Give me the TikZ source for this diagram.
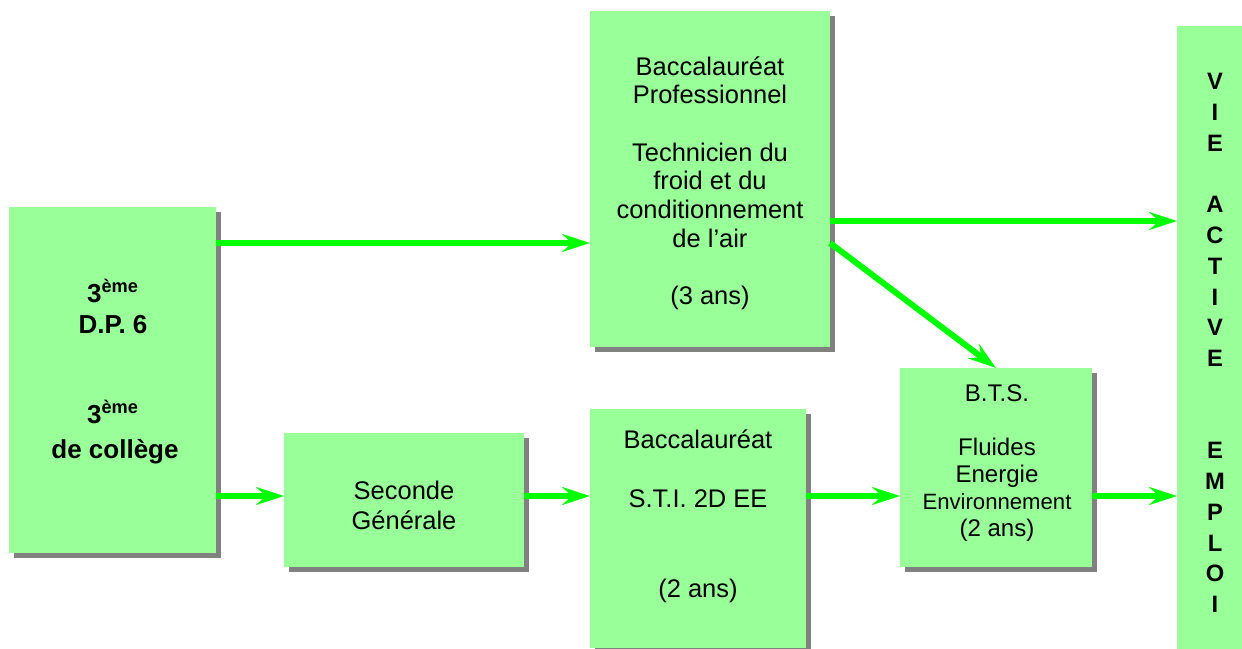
\documentclass[tikz,border=0pt]{standalone}
\usepackage{fontspec}
\setmainfont{Liberation Sans}
\usepackage{tikz}
\usetikzlibrary{positioning}
\usetikzlibrary{arrows.meta}
\usetikzlibrary{fit}
\usetikzlibrary{shadows}

\definecolor{boxgreen}{HTML}{99FF99}
\definecolor{arrowgreen}{HTML}{00FF00}
\definecolor{shadowgray}{HTML}{808080}

\tikzset{
  box/.style={fill=boxgreen, inner sep=0pt, outer sep=0pt,
    drop shadow={shadow xshift=0.1cm, shadow yshift=-0.1cm, fill=shadowgray, opacity=1}},
  flow/.style={draw=arrowgreen, line width=0.12cm,
    -{Stealth[length=0.56cm, width=0.36cm, inset=0.2cm]}},
  txt/.style={align=center, inner sep=0pt},
  normal/.style={font=\fontsize{14.5}{17}\selectfont},
  heavy/.style={font=\fontsize{14.8}{17}\selectfont\bfseries}
}

\begin{document}
\begin{tikzpicture}[x=0.02cm, y=-0.02cm]
\useasboundingbox (0,0) rectangle (1242,649);
% boxes
\node[box, fit={(9,207) (216,553)}] (dp) {};
\node[box, fit={(590,11) (830,347)}] (bacpro) {};
\node[box, fit={(284,433) (524,567)}] (seconde) {};
\node[box, fit={(590,409) (806,648)}] (sti) {};
\node[box, fit={(900,368) (1092,567)}] (bts) {};
\node[box, fit={(1177,26) (1253,660)}] (vie) {};
% 3eme
\node[txt, heavy, anchor=base] (dpa) at (113,302) {3\textsuperscript{ème}};
\node[txt, heavy, anchor=base] (dpb) at (113,333) {D.P. 6};
\node[txt, heavy, anchor=base] (dpc) at (113,423) {3\textsuperscript{ème}};
\node[txt, heavy, anchor=base] (dpd) at (115,458) {de collège};
% bac pro
\node[txt, font=\fontsize{14.5}{16.3}\selectfont] (bacprot) at (710,183)
  {Baccalauréat\\Professionnel\\[16.3pt]Technicien du\\froid et du\\conditionnement\\de l'air\\[16.3pt](3 ans)};
% seconde, bac sti
\node[txt, normal] (secondet) at (404,505) {Seconde\\Générale};
\node[txt, normal] (stit) at (698,516) {Baccalauréat\\[17pt]S.T.I. 2D EE\\[34pt](2 ans)};
% bts
\node[txt, font=\fontsize{13.7}{15.4}\selectfont] (btst) at (997,463)
  {B.T.S.\\[15.4pt]Fluides\\Energie\\{\fontsize{12.6}{15.4}\selectfont Environnement}\\(2 ans)};
% vie active
\node[txt, font=\fontsize{13.5}{17.5}\selectfont\bfseries] (viet) at (1215,343)
  {V\\I\\E\\[17.5pt]A\\C\\T\\I\\V\\E\\[35pt]E\\M\\P\\L\\O\\I};
% arrows
\coordinate (high) at (0,221);
\coordinate (mid) at (0,243);
\coordinate (low) at (0,496);
\draw[flow] (dp.east |- mid) -- (bacpro.west |- mid);
\draw[flow] (dp.east |- low) -- (seconde.west |- low);
\draw[flow] (seconde.east |- low) -- (sti.west |- low);
\draw[flow] (sti.east |- low) -- (bts.west |- low);
\draw[flow] (bts.east |- low) -- (vie.west |- low);
\draw[flow] (bacpro.east |- high) -- (vie.west |- high);
\draw[flow] (bacpro.east |- mid) -- (bts.north);
\end{tikzpicture}
\end{document}
